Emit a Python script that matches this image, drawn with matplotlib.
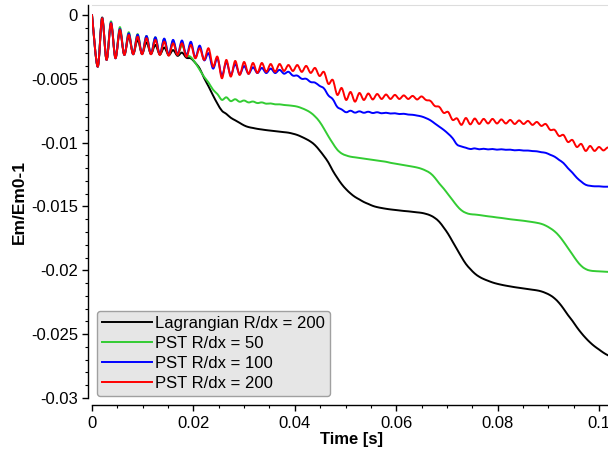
import numpy as np
import matplotlib
matplotlib.use("Agg")
import matplotlib.pyplot as plt
from matplotlib.ticker import MultipleLocator, FuncFormatter
from matplotlib.path import Path
from matplotlib.patches import PathPatch
from matplotlib.lines import Line2D

plt.rcParams['font.family'] = ['Liberation Sans', 'DejaVu Sans']
plt.rcParams['axes.unicode_minus'] = False

# Sample times [s]: start, then alternating trough/crest instants of the oscillation
first_sample = 1.12e-3
half_period = 0.875e-3
time = np.concatenate([[0.0], first_sample + half_period * np.arange(117)])

# Em/Em0-1 values, in units of 1e-3
lagrangian_200 = [0,
    -4.05, -0.20, -3.50, -0.70, -3.30, -1.30, -3.10, -1.70, -3.05, -1.95,
    -3.05, -2.15, -3.05, -2.35, -3.10, -2.55, -3.15, -2.75, -3.20, -2.95,
    -3.35, -3.40, -3.75, -4.20, -4.95, -5.60, -6.30, -6.95, -7.50, -7.75,
    -8.05, -8.25, -8.45, -8.65, -8.78, -8.85, -8.92, -8.97, -9.02, -9.06,
    -9.10, -9.14, -9.18, -9.22, -9.30, -9.40, -9.55, -9.72, -9.92, -10.20,
    -10.60, -11.05, -11.55, -12.20, -12.75, -13.25, -13.65, -13.98, -14.25, -14.45,
    -14.65, -14.80, -14.95, -15.05, -15.12, -15.18, -15.23, -15.27, -15.31, -15.35,
    -15.38, -15.42, -15.46, -15.50, -15.58, -15.70, -15.90, -16.20, -16.65, -17.15,
    -17.75, -18.35, -18.95, -19.50, -19.90, -20.25, -20.50, -20.68, -20.82, -20.95,
    -21.05, -21.13, -21.20, -21.26, -21.32, -21.37, -21.42, -21.47, -21.52, -21.57,
    -21.65, -21.78, -21.95, -22.20, -22.55, -23.00, -23.50, -23.95, -24.45, -24.90,
    -25.30, -25.65, -25.95, -26.20, -26.45, -26.65, -26.80]

pst_50 = [0,
    -4.05, -0.26, -3.52, -0.50, -3.39, -0.95, -3.13, -1.35, -3.08, -1.50,
    -3.05, -1.65, -3.05, -1.75, -3.10, -1.90, -3.15, -2.05, -3.10, -2.40,
    -3.10, -3.30, -3.75, -4.30, -4.85, -5.30, -5.85, -6.20, -6.65, -6.45,
    -6.75, -6.60, -6.80, -6.70, -6.85, -6.78, -6.90, -6.85, -6.95, -6.93,
    -7.00, -7.00, -7.05, -7.08, -7.12, -7.18, -7.30, -7.45, -7.65, -7.95,
    -8.35, -8.90, -9.50, -10.05, -10.55, -10.85, -11.00, -11.10, -11.15, -11.20,
    -11.25, -11.30, -11.35, -11.40, -11.45, -11.50, -11.58, -11.64, -11.70, -11.76,
    -11.82, -11.88, -11.95, -12.05, -12.20, -12.40, -12.75, -13.20, -13.60, -14.05,
    -14.50, -14.95, -15.30, -15.50, -15.60, -15.63, -15.67, -15.72, -15.77, -15.81,
    -15.86, -15.90, -15.95, -16.00, -16.04, -16.08, -16.12, -16.17, -16.22, -16.28,
    -16.36, -16.50, -16.70, -16.95, -17.30, -17.75, -18.25, -18.75, -19.25, -19.65,
    -19.90, -20.02, -20.06, -20.08, -20.10, -20.12, -20.13]

pst_100 = [0,
    -4.05, -0.26, -3.52, -0.60, -3.39, -1.10, -3.13, -1.45, -3.08, -1.55,
    -3.05, -1.65, -3.05, -1.75, -3.08, -1.85, -3.12, -1.95, -3.10, -2.00,
    -3.20, -2.10, -3.35, -2.40, -3.55, -3.00, -4.20, -3.40, -4.75, -3.70,
    -4.70, -3.85, -4.65, -4.00, -4.60, -4.10, -4.55, -4.15, -4.55, -4.20,
    -4.55, -4.30, -4.60, -4.45, -4.75, -4.75, -5.00, -5.00, -5.25, -5.30,
    -5.55, -5.75, -6.30, -6.60, -7.20, -7.40, -7.62, -7.50, -7.65, -7.55,
    -7.66, -7.58, -7.68, -7.62, -7.70, -7.66, -7.72, -7.70, -7.76, -7.74,
    -7.80, -7.82, -7.88, -7.95, -8.08, -8.25, -8.50, -8.75, -9.00, -9.30,
    -9.65, -10.15, -10.30, -10.40, -10.50, -10.45, -10.52, -10.48, -10.53, -10.50,
    -10.55, -10.52, -10.56, -10.55, -10.60, -10.58, -10.62, -10.62, -10.66, -10.68,
    -10.75, -10.80, -10.95, -11.10, -11.35, -11.60, -12.00, -12.35, -12.75, -13.05,
    -13.30, -13.38, -13.42, -13.42, -13.45, -13.45, -13.45]

pst_200 = [0,
    -4.05, -0.26, -3.52, -0.65, -3.39, -1.17, -3.13, -1.57, -3.08, -1.70,
    -3.08, -1.82, -3.08, -1.96, -3.13, -2.09, -3.19, -2.22, -3.13, -2.22,
    -3.27, -2.35, -3.39, -2.61, -3.52, -2.61, -4.05, -3.27, -4.96, -3.52,
    -4.83, -3.60, -4.70, -3.68, -4.62, -3.76, -4.54, -3.76, -4.46, -3.84,
    -4.46, -3.84, -4.39, -3.92, -4.39, -3.92, -4.46, -3.99, -4.54, -4.15,
    -4.78, -4.46, -5.40, -5.09, -6.26, -5.72, -6.66, -6.03, -6.79, -6.11,
    -6.66, -6.15, -6.62, -6.19, -6.58, -6.23, -6.58, -6.26, -6.58, -6.30,
    -6.58, -6.34, -6.62, -6.38, -6.66, -6.73, -7.13, -7.20, -7.67, -7.60,
    -8.22, -8.10, -8.61, -8.07, -8.57, -8.11, -8.54, -8.14, -8.50, -8.14,
    -8.50, -8.18, -8.50, -8.22, -8.54, -8.26, -8.54, -8.30, -8.61, -8.38,
    -8.69, -8.54, -9.00, -9.00, -9.48, -9.40, -9.95, -9.79, -10.34, -10.10,
    -10.65, -10.26, -10.65, -10.34, -10.61, -10.38, -10.57]

value_unit = 1e-3
series = [
    ("Lagrangian R/dx = 200", lagrangian_200, "#000000"),
    ("PST R/dx = 50", pst_50, "#33cc33"),
    ("PST R/dx = 100", pst_100, "#0000ff"),
    ("PST R/dx = 200", pst_200, "#ff0000"),
]


def smooth_path(x, y):
    """Cubic Bezier path through every sample (Catmull-Rom tangents)."""
    p = np.column_stack([x, y])
    pad = np.vstack([p[0], p, p[-1]])
    verts = [p[0]]
    codes = [Path.MOVETO]
    for i in range(len(p) - 1):
        p0, p1, p2, p3 = pad[i], pad[i + 1], pad[i + 2], pad[i + 3]
        c1 = p1 + (p2 - p0) / 6.0
        c2 = p2 - (p3 - p1) / 6.0
        verts += [c1, c2, p2]
        codes += [Path.CURVE4] * 3
    return Path(np.array(verts), codes)


W, H = 608, 453
fig = plt.figure(figsize=(W / 100, H / 100), dpi=100)
fig.patch.set_facecolor("white")

x_max = 0.1025
y_min, y_max = -0.03, 0.00078
left_px, right_px = 92, 92 + 5070 * x_max
bottom_px, top_px = 398, 5
ax = fig.add_axes([left_px / W, 1 - bottom_px / H,
                   (right_px - left_px) / W, (bottom_px - top_px) / H])

handles = []
for label, vals, color in series:
    values = np.asarray(vals) * value_unit
    ax.add_patch(PathPatch(smooth_path(time, values), fill=False,
                           edgecolor=color, lw=1.4, joinstyle='round',
                           capstyle='round'))
    handles.append(Line2D([], [], color=color, lw=1.4, label=label))

ax.set_xlim(0, x_max)
ax.set_ylim(y_min, y_max)

ax.xaxis.set_major_locator(MultipleLocator(0.02))
ax.xaxis.set_minor_locator(MultipleLocator(0.005))
ax.yaxis.set_major_locator(MultipleLocator(0.005))
ax.yaxis.set_minor_locator(MultipleLocator(0.001))
fmt = FuncFormatter(lambda v, p: "0" if abs(v) < 1e-12 else f"{v:g}")
ax.xaxis.set_major_formatter(fmt)
ax.yaxis.set_major_formatter(fmt)

ax.spines['right'].set_visible(False)
ax.spines['top'].set_color("#dddddd")
ax.spines['left'].set_position(('outward', 3))
ax.spines['bottom'].set_position(('outward', 5))
ax.spines['left'].set_bounds(y_min, y_max)
ax.spines['bottom'].set_bounds(0, x_max)
for s in ('left', 'bottom'):
    ax.spines[s].set_linewidth(1.0)

ax.tick_params(which='major', direction='out', length=4, width=1.0,
               labelsize=12, pad=3)
ax.tick_params(which='minor', direction='out', length=2.5, width=0.8)
ax.tick_params(axis='x', which='major', pad=4)

ax.set_xlabel("Time [s]", fontsize=12, fontweight='bold', labelpad=1)
ax.set_ylabel("Em/Em0-1", fontsize=12.5, fontweight='bold', labelpad=3)

leg = ax.legend(handles=handles, loc='lower left',
                bbox_to_anchor=(97 / W, 1 - 396 / H),
                bbox_transform=fig.transFigure, borderaxespad=0,
                fontsize=12, frameon=True, fancybox=True,
                handlelength=3.0, handletextpad=0.2, labelspacing=0.3,
                borderpad=0.3)
frame = leg.get_frame()
frame.set_facecolor("#e6e6e6")
frame.set_edgecolor("#a0a0a0")
frame.set_alpha(1.0)
frame.set_linewidth(1.0)

fig.savefig("out.png", dpi=100)
